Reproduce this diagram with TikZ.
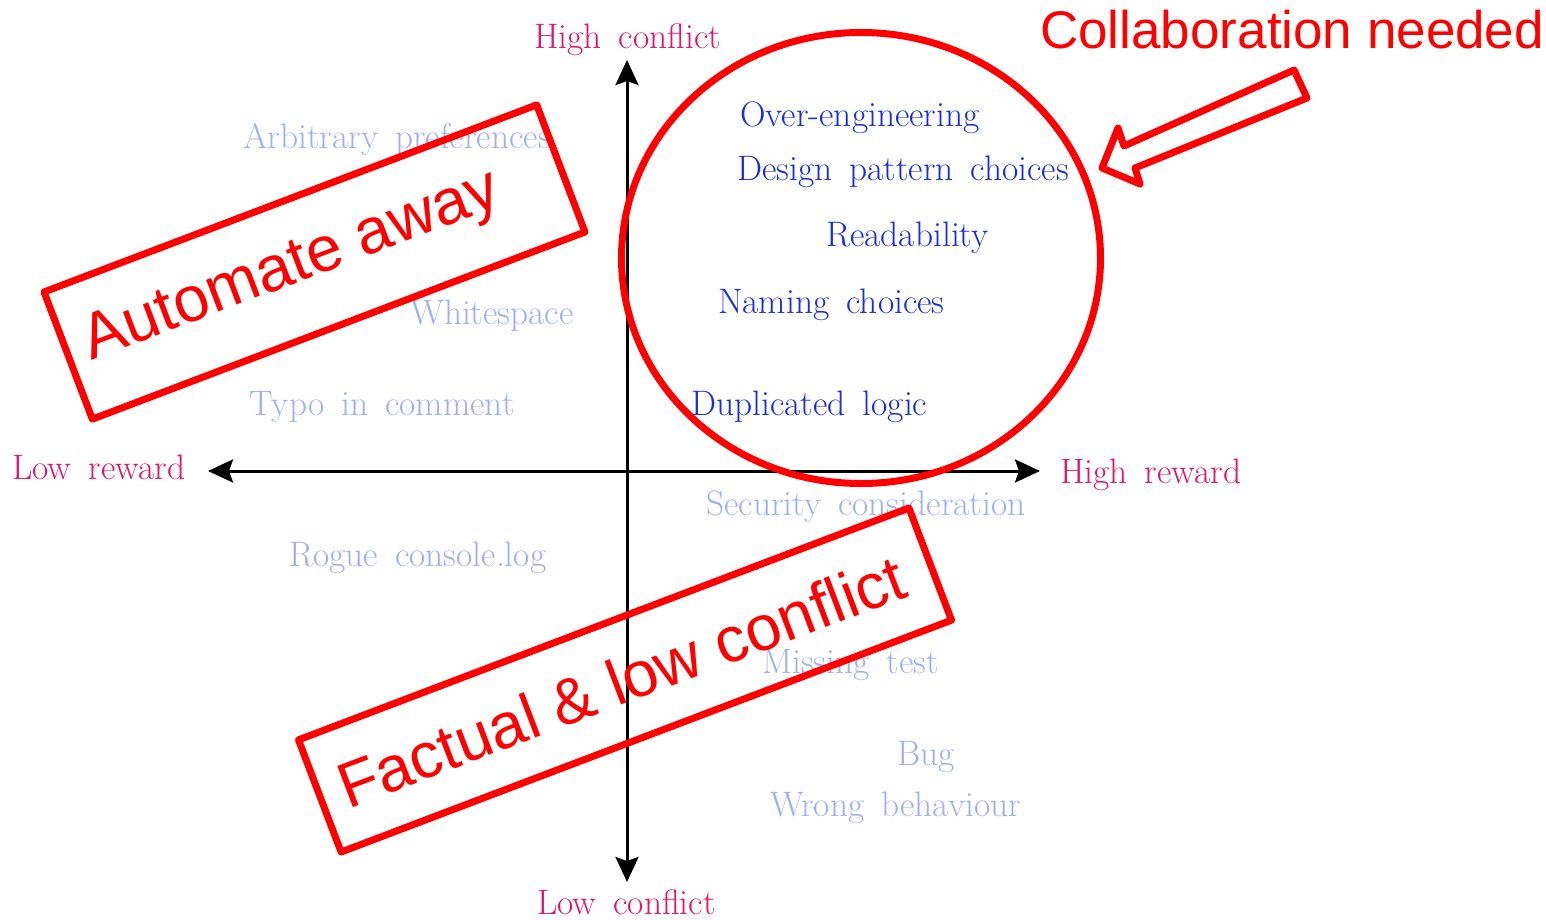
\documentclass[tikz,border=0pt]{standalone}
\usepackage{fontspec}
\newfontfamily\arialfont{Liberation Sans}
\usetikzlibrary{arrows.meta}
\definecolor{axlab}{RGB}{225,20,110}
\definecolor{hot}{RGB}{25,45,220}
\definecolor{pale}{RGB}{160,175,240}
\definecolor{mark}{RGB}{255,0,0}
\newcommand{\lblfont}{\fontsize{35.4}{42}\selectfont\spaceskip 17pt plus 2pt\relax}
\newcommand{\bigredfont}{\arialfont\fontsize{64}{76}\selectfont}
\newcommand{\collabfont}{\arialfont\fontsize{53}{64}\selectfont}
\tikzset{
  lbl/.style={anchor=base west, inner sep=0pt, font=\lblfont},
  axlbl/.style={lbl, text=axlab},
  hotlbl/.style={lbl, text=hot},
  palelbl/.style={lbl, text=pale},
  axisline/.style={line width=3pt, {Stealth[length=25pt,width=23pt,inset=4pt]}-{Stealth[length=25pt,width=23pt,inset=4pt]}},
  redbox/.style={draw=mark, line width=7pt, rotate=20.8, line join=round, inner sep=0pt},
  redtext/.style={text=mark, inner sep=0pt, font=\bigredfont},
}
\begin{document}
\begin{tikzpicture}[x=1pt,y=-1pt]
\useasboundingbox (0,0) rectangle (1546,919);
% axes
\coordinate (top) at (627,60);
\coordinate (bottom) at (627,882);
\coordinate (left) at (208,471);
\coordinate (right) at (1040,471);
\draw[axisline] (bottom) -- (top);
\draw[axisline] (left) -- (right);
% axis labels
\node[axlbl] (hc) at (534,48) {High conflict};
\node[axlbl] (lc) at (537,914) {Low conflict};
\node[axlbl] (lr) at (12,479) {Low reward};
\node[axlbl] (hr) at (1060,483) {High reward};
% pale items
\node[palelbl] (arb) at (243,148) {Arbitrary preferences};
\node[palelbl] (ws) at (410,324) {Whitespace};
\node[palelbl] (typo) at (249,415) {Typo in comment};
\node[palelbl] (rogue) at (289,566) {Rogue console.log};
\node[palelbl] (sec) at (706,515) {Security consideration};
\node[palelbl] (miss) at (762,673) {Missing test};
\node[palelbl] (bug) at (897,765) {Bug};
\node[palelbl] (wrong) at (770,816) {Wrong behaviour};
% hot items
\node[hotlbl] (over) at (740,126) {Over-engineering};
\node[hotlbl] (design) at (737,180) {Design pattern choices};
\node[hotlbl] (read) at (826,246) {Readability};
\node[hotlbl] (naming) at (718,313) {Naming choices};
\node[hotlbl] (dup) at (691,415) {Duplicated logic};
% red annotations
\draw[draw=mark, line width=7pt] (861,258) ellipse [x radius=239.5, y radius=225.5];
\node[redbox, minimum width=527pt, minimum height=136pt] (autobox) at (314.5,262) {};
\node[redtext, rotate=20.8] (autotext) at (292,268) {Automate away};
\node[redbox, minimum width=653pt, minimum height=120pt] (factbox) at (625,680) {};
\node[redtext, rotate=20.8] (facttext) at (621,681) {Factual \& low conflict};
\node[anchor=base west, inner sep=0pt, text=mark, font=\collabfont] (collab) at (1040,48) {Collaboration needed};
\draw[draw=mark, line width=7pt, line join=round] (1294,70) -- (1307,98) -- (1135,168) -- (1140,184) -- (1102,168) -- (1118,128) -- (1124,146) -- cycle;
\end{tikzpicture}
\end{document}
